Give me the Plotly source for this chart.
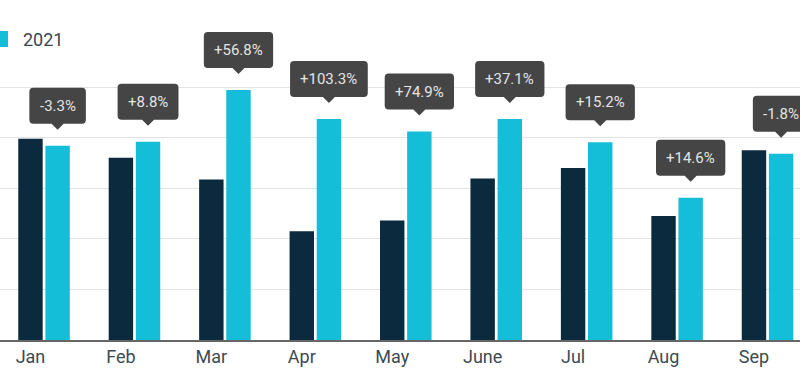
import plotly.graph_objects as go

months = ["Jan", "Feb", "Mar", "Apr", "May", "June", "Jul", "Aug", "Sep"]
v2020 = [3.98, 3.60, 3.17, 2.15, 2.36, 3.19, 3.40, 2.45, 3.75]
v2021 = [3.84, 3.92, 4.94, 4.37, 4.12, 4.37, 3.91, 2.81, 3.68]
changes = ["-3.3%", "+8.8%", "+56.8%", "+103.3%", "+74.9%", "+37.1%", "+15.2%", "+14.6%", "-1.8%"]
grid_vals = [0, 1, 2, 3, 4, 5]

DARK = "#0c2a3d"
CYAN = "#15bed8"
BOX = "#454545"
FONT = "Roboto"

BAR_W = 0.27
CYAN_OFF = 0.165

fig = go.Figure()
fig.add_trace(go.Bar(x=months, y=v2020, name="2020", marker_color=DARK,
                     width=BAR_W, offset=-BAR_W / 2, marker_line_width=0))
fig.add_trace(go.Bar(x=months, y=v2021, name="2021", marker_color=CYAN,
                     width=BAR_W, offset=CYAN_OFF, marker_line_width=0))

CW = {"+": 8.5, "-": 4.1, ".": 3.9, "%": 11.7}


def text_w(s):
    return sum(CW.get(c, 8.4) for c in s)


def bubble_path(w, tip=16, base=22, top=58, r=4, ph=6):
    hw = w / 2
    return (f"M 0 {tip} L {-ph} {base} L {-hw + r} {base} Q {-hw} {base} {-hw} {base + r} "
            f"L {-hw} {top - r} Q {-hw} {top} {-hw + r} {top} L {hw - r} {top} "
            f"Q {hw} {top} {hw} {top - r} L {hw} {base + r} Q {hw} {base} {hw - r} {base} "
            f"L {ph} {base} Z")


shapes = []
annotations = []
cx_off = CYAN_OFF + BAR_W / 2
for i, (val, lab) in enumerate(zip(v2021, changes)):
    w = text_w(lab) + 20
    shapes.append(dict(type="path", xref="x", yref="y", xsizemode="pixel", ysizemode="pixel",
                       xanchor=i + cx_off, yanchor=val, path=bubble_path(w),
                       fillcolor=BOX, line=dict(width=0), layer="above"))
    annotations.append(dict(x=i + cx_off, y=val, xref="x", yref="y", yshift=40,
                            text=lab, showarrow=False, xanchor="center", yanchor="middle",
                            font=dict(family=FONT, size=15, color="#e4e4e4")))

# manual legend (the 2020 item lies outside the visible frame)
shapes.append(dict(type="rect", xref="paper", yref="paper", x0=-0.01, x1=0.01,
                   y0=(340 - 47) / 340, y1=(340 - 31) / 340, fillcolor=CYAN, line=dict(width=0)))
annotations.append(dict(x=21 / 800, y=(340 - 39) / 340, xref="paper", yref="paper",
                        text="2021", showarrow=False, xanchor="left", yanchor="middle",
                        font=dict(family=FONT, size=18, color="#3a4650")))

fig.update_layout(
    width=800, height=380,
    margin=dict(l=0, r=0, t=0, b=40),
    paper_bgcolor="white", plot_bgcolor="white",
    barmode="overlay",
    showlegend=False,
    shapes=shapes,
    annotations=annotations,
    font=dict(family=FONT),
    xaxis=dict(range=[-0.337, 8.509], showgrid=False, showline=True, linecolor="#666666",
               linewidth=1.5, ticks="", tickfont=dict(family=FONT, size=18, color="#3c4a54"),
               fixedrange=True),
    yaxis=dict(range=[0, 6.72], tickvals=grid_vals, showticklabels=False, gridcolor="#e3e3e3",
               gridwidth=1, zeroline=False, fixedrange=True),
)

fig.write_html("out.html", config={"displayModeBar": False},
               post_script="document.body.style.margin='0';")
